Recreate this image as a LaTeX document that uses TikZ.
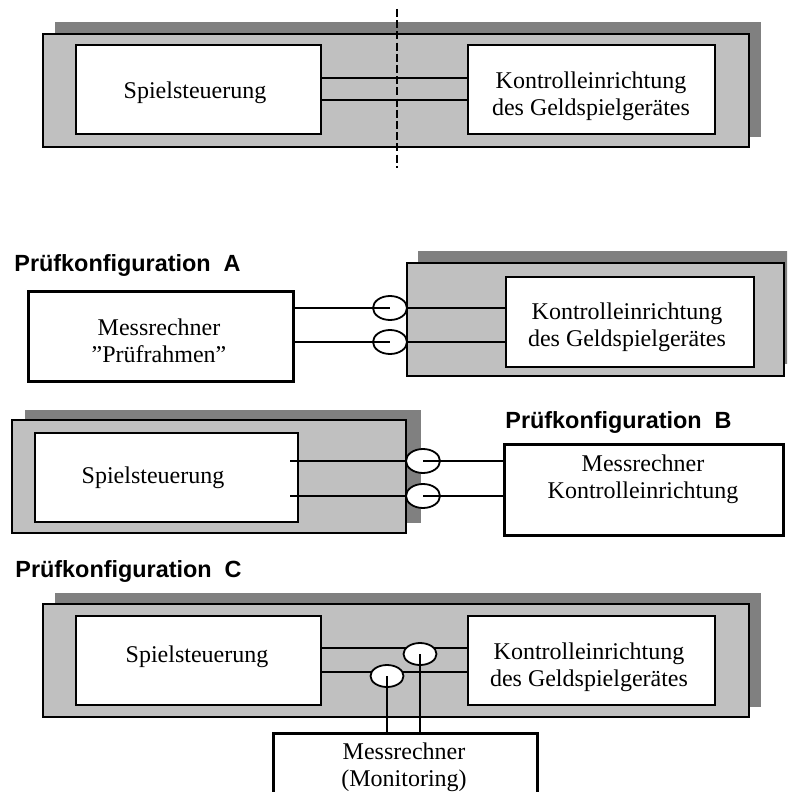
\documentclass[tikz,border=0pt]{standalone}
\usepackage{fontspec}
\setmainfont{Liberation Serif}
\newfontfamily\headfont{Liberation Sans}
\usetikzlibrary{shapes.geometric}
\definecolor{panel}{HTML}{C0C0C0}
\definecolor{panelshadow}{HTML}{808080}
\tikzset{
  shadowbox/.style={fill=panelshadow, draw=none, inner sep=0pt},
  panelbox/.style={fill=panel, draw=black, line width=0.8pt, inner sep=0pt},
  unitbox/.style={fill=white, draw=black, line width=0.8pt, inner sep=0pt},
  meterbox/.style={fill=white, draw=black, line width=1.5pt, inner sep=0pt},
  label text/.style={align=center, inner sep=0pt, font=\fontsize{12}{13.5}\selectfont},
  probe/.style={ellipse, draw=black, fill=white, line width=0.9pt, inner sep=0pt,
    minimum width=17pt, minimum height=12pt},
  wire/.style={line width=1pt},
  heading/.style={font=\headfont\bfseries\fontsize{11.7}{13}\selectfont, anchor=west, inner sep=0pt},
}
% rectangle node from corner (x1,y1) to (x2,y2), in picture units (1 unit = 0.5pt)
\newcommand\blk[6]{%
  \pgfmathsetmacro\blkw{(#5-#3)*0.5}%
  \pgfmathsetmacro\blkh{(#6-#4)*0.5}%
  \node[#1, anchor=north west, minimum width=\blkw pt, minimum height=\blkh pt] (#2) at (#3,#4) {};}
\begin{document}
\begin{tikzpicture}[x=0.5pt,y=-0.5pt]
\useasboundingbox (0,0) rectangle (787,792);
\clip (0,0) rectangle (787,792);

% ---------- Gesamtsystem ----------
\blk{shadowbox}{s0}{55}{22}{761}{137}
\blk{panelbox}{p0}{42}{33}{748}{146}
\blk{unitbox}{spiel0}{75}{44}{320}{133}
\blk{unitbox}{kontr0}{467}{44}{714}{133}
\node[label text] (spiel0t) at (195,93) {Spielsteuerung};
\node[label text] (kontr0t) at (591,96) {Kontrolleinrichtung\\des Geldspielgerätes};
\coordinate (y0a) at (0,78);
\coordinate (y0b) at (0,100);
\draw[wire] (spiel0.east |- y0a) -- (kontr0.west |- y0a);
\draw[wire] (spiel0.east |- y0b) -- (kontr0.west |- y0b);
\coordinate (cutTop) at (397,9);
\coordinate (cutBot) at (397,168);
\draw[line width=1.3pt, dash pattern=on 4pt off 1.6pt] (cutTop) -- (cutBot);

% ---------- Prüfkonfiguration A ----------
\node[heading] (headA) at (14,265) {Prüfkonfiguration\ \ A};
\blk{shadowbox}{sA}{418}{251}{792}{364}
\blk{panelbox}{pA}{406}{262}{783}{375}
\blk{unitbox}{kontrA}{505}{276}{753}{366}
\node[label text] (kontrAt) at (627,327) {Kontrolleinrichtung\\des Geldspielgerätes};
\blk{meterbox}{measA}{27}{290}{292}{380}
\node[label text] (measAt) at (159,341) {Messrechner\\”Prüfrahmen”};
\node[probe] (eA1) at (390,308) {};
\node[probe] (eA2) at (390,342) {};
\draw[wire] (measA.east |- eA1) -- (eA1.center);
\draw[wire] (measA.east |- eA2) -- (eA2.center);
\draw[wire] (eA1.east) -- (kontrA.west |- eA1);
\draw[wire] (eA2.east) -- (kontrA.west |- eA2);

% ---------- Prüfkonfiguration B ----------
\blk{shadowbox}{sB}{25}{410}{421}{523}
\blk{panelbox}{pB}{11}{419}{405}{532}
\blk{unitbox}{spielB}{34}{432}{297}{521}
\node[label text] (spielBt) at (153,478) {Spielsteuerung};
\node[heading] (headB) at (505,422) {Prüfkonfiguration\ \ B};
\blk{meterbox}{measB}{503}{443}{782}{534}
\node[label text] (measBt) at (643,479) {Messrechner\\Kontrolleinrichtung};
\node[probe] (eB1) at (423,461) {};
\node[probe] (eB2) at (423,496) {};
\coordinate (stubB1) at (290,461);
\coordinate (stubB2) at (290,496);
\draw[wire] (stubB1) -- (eB1.west);
\draw[wire] (stubB2) -- (eB2.west);
\draw[wire] (measB.west |- eB1) -- (eB1.center);
\draw[wire] (measB.west |- eB2) -- (eB2.center);

% ---------- Prüfkonfiguration C ----------
\node[heading] (headC) at (15,571) {Prüfkonfiguration\ \ C};
\blk{shadowbox}{sC}{55}{593}{761}{707}
\blk{panelbox}{pC}{42}{603}{748}{716}
\blk{unitbox}{spielC}{75}{615}{320}{704}
\blk{unitbox}{kontrC}{467}{615}{714}{704}
\node[label text] (spielCt) at (197,657) {Spielsteuerung};
\node[label text] (kontrCt) at (589,667) {Kontrolleinrichtung\\des Geldspielgerätes};
\coordinate (yCa) at (0,648);
\coordinate (yCb) at (0,672);
\draw[wire] (spielC.east |- yCa) -- (kontrC.west |- yCa);
\draw[wire] (spielC.east |- yCb) -- (kontrC.west |- yCb);
\blk{meterbox}{measC}{272}{732}{536}{812}
\node[label text] (measCt) at (404,767) {Messrechner\\(Monitoring)};
\node[probe, minimum width=16.5pt, minimum height=11pt] (eC1) at (420,654) {};
\node[probe, minimum width=16.5pt, minimum height=11pt] (eC2) at (387,676) {};
\draw[wire] (eC1.center) -- (eC1 |- measC.north);
\draw[wire] (eC2.center) -- (eC2 |- measC.north);
\end{tikzpicture}
\end{document}
